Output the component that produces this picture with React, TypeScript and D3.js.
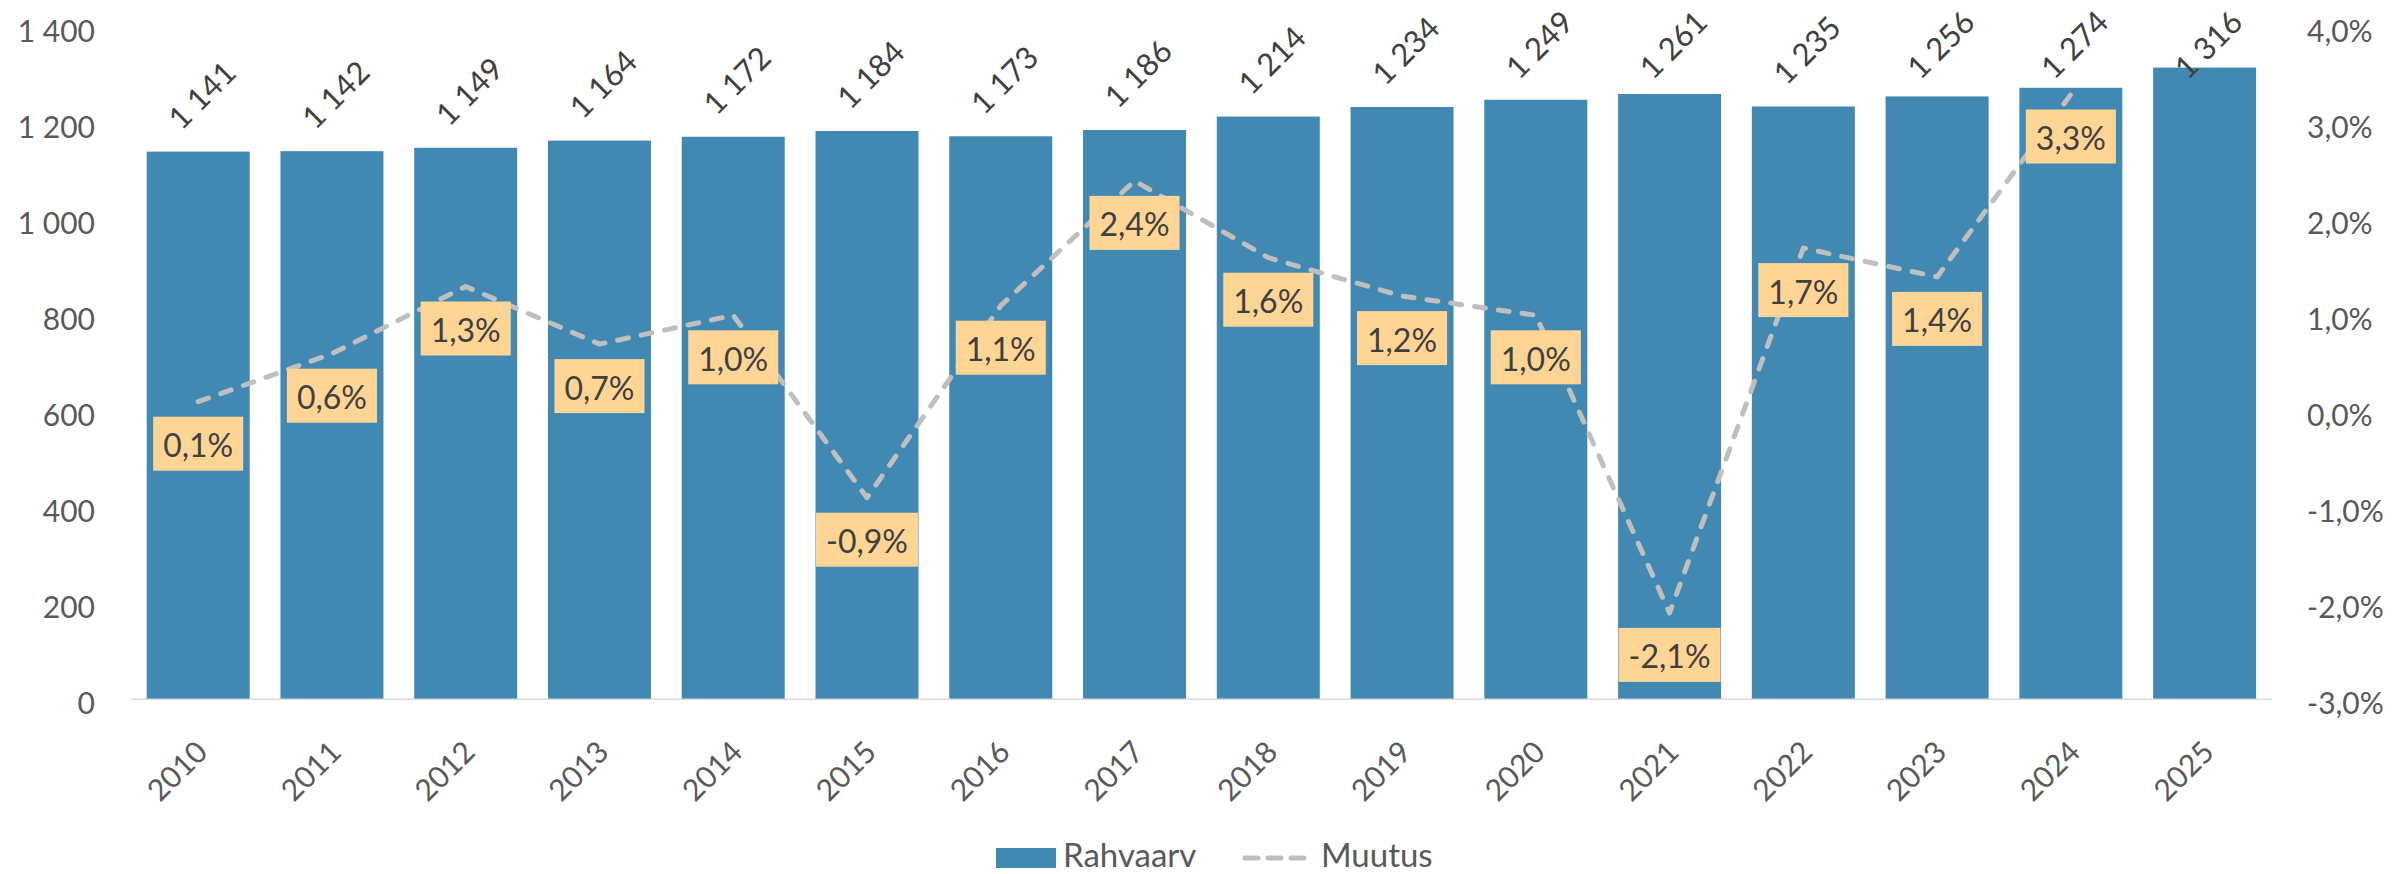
import React, { useRef, useEffect } from "react";
import * as d3 from "d3";

// andmed (loetud pildilt)
const years = ["2010", "2011", "2012", "2013", "2014", "2015", "2016", "2017", "2018", "2019", "2020", "2021", "2022", "2023", "2024", "2025"];
const population = [1141, 1142, 1149, 1164, 1172, 1184, 1173, 1186, 1214, 1234, 1249, 1261, 1235, 1256, 1274, 1316];
const change: (number | null)[] = [0.1, 0.6, 1.3, 0.7, 1.0, -0.9, 1.1, 2.4, 1.6, 1.2, 1.0, -2.1, 1.7, 1.4, 3.3, null];
const leftTicks = [0, 200, 400, 600, 800, 1000, 1200, 1400];
const rightTicks = [-3, -2, -1, 0, 1, 2, 3, 4];
const seriesNames = ["Rahvaarv", "Muutus"];

const W = 2402;
const H = 874;
const FONT = "Lato, 'Open Sans', sans-serif";
const BAR_COLOR = "#4189b3";
const LINE_COLOR = "#bfbfbf";
const BOX_COLOR = "#ffd596";
const AXIS_TEXT = "#595959";
const LABEL_TEXT = "#404040";

const fmtThousands = (n: number) =>
  n >= 1000 ? `${Math.floor(n / 1000)} ${String(n % 1000).padStart(3, "0")}` : `${n}`;
const fmtPct = (n: number) => `${n.toFixed(1).replace(".", ",")}%`;

const App = () => {
  const svgRef = useRef<SVGSVGElement | null>(null);

  useEffect(() => {
    if (!svgRef.current) return;
    const svg = d3.select(svgRef.current);
    svg.selectAll("*").remove();

    // skaalad
    const x = d3
      .scaleBand<string>()
      .domain(years)
      .range([131.3, 2271.5])
      .paddingInner(0.23)
      .paddingOuter(0.115);
    const yLeft = d3.scaleLinear().domain([0, 1400]).range([699.3, 27.3]);
    const yRight = d3.scaleLinear().domain([-3, 4]).range([699.3, 27.3]);
    const cx = (yr: string) => (x(yr) as number) + x.bandwidth() / 2;

    // vasak telg
    svg
      .append("g")
      .selectAll("text")
      .data(leftTicks)
      .enter()
      .append("text")
      .attr("x", 95)
      .attr("y", (d) => yLeft(d) + 3)
      .attr("text-anchor", "end")
      .attr("dominant-baseline", "central")
      .style("font-family", FONT)
      .style("font-size", "30px")
      .style("fill", AXIS_TEXT)
      .text((d) => fmtThousands(d));

    // parem telg
    svg
      .append("g")
      .selectAll("text")
      .data(rightTicks)
      .enter()
      .append("text")
      .attr("x", 2307)
      .attr("y", (d) => yRight(d) + 3)
      .attr("text-anchor", "start")
      .attr("dominant-baseline", "central")
      .style("font-family", FONT)
      .style("font-size", "30px")
      .style("fill", AXIS_TEXT)
      .text((d) => fmtPct(d));

    // tulbad
    svg
      .append("g")
      .selectAll("rect")
      .data(population)
      .enter()
      .append("rect")
      .attr("x", (d, i) => x(years[i]) as number)
      .attr("y", (d) => yLeft(d))
      .attr("width", x.bandwidth())
      .attr("height", (d) => yLeft(0) - yLeft(d))
      .attr("fill", BAR_COLOR);

    // x-telje joon
    svg
      .append("line")
      .attr("x1", x.range()[0])
      .attr("x2", x.range()[1])
      .attr("y1", yLeft(0))
      .attr("y2", yLeft(0))
      .attr("stroke", "#d9d9d9")
      .attr("stroke-width", 1.5);

    // aastad
    svg
      .append("g")
      .selectAll("text")
      .data(years)
      .enter()
      .append("text")
      .attr("transform", (d) => `translate(${cx(d) - 22}, 770) rotate(-45)`)
      .attr("text-anchor", "middle")
      .attr("dominant-baseline", "central")
      .style("font-family", FONT)
      .style("font-size", "30px")
      .style("fill", AXIS_TEXT)
      .text((d) => d);

    // tulpade väärtused
    svg
      .append("g")
      .selectAll("text")
      .data(population)
      .enter()
      .append("text")
      .attr("transform", (d, i) => `translate(${cx(years[i]) + 3}, ${Math.max(yLeft(d) - 57, 44)}) rotate(-45)`)
      .attr("text-anchor", "middle")
      .attr("dominant-baseline", "central")
      .style("font-family", FONT)
      .style("font-size", "31px")
      .style("fill", LABEL_TEXT)
      .text((d) => fmtThousands(d));

    // muutuse joon
    const pts = change
      .map((v, i) => ({ v, yr: years[i] }))
      .filter((p) => p.v !== null) as { v: number; yr: string }[];
    const line = d3
      .line<{ v: number; yr: string }>()
      .x((p) => cx(p.yr))
      .y((p) => yRight(p.v));
    svg
      .append("path")
      .datum(pts)
      .attr("d", line)
      .attr("fill", "none")
      .attr("stroke", LINE_COLOR)
      .attr("stroke-width", 5)
      .attr("stroke-dasharray", "11 13")
      .attr("stroke-linecap", "round")
      .attr("stroke-linejoin", "round");

    // muutuse sildid (oranž kast)
    const boxes = svg.append("g");
    pts.forEach((p) => {
      const g = boxes.append("g").attr("transform", `translate(${cx(p.yr)}, ${yRight(p.v) + 42})`);
      const rect = g.append("rect").attr("fill", BOX_COLOR);
      const t = g
        .append("text")
        .attr("text-anchor", "middle")
        .attr("dominant-baseline", "central")
        .attr("y", 1)
        .style("font-family", FONT)
        .style("font-size", "32px")
        .style("fill", LABEL_TEXT)
        .text(fmtPct(p.v));
      const w = (t.node() as SVGTextElement).getComputedTextLength() + 20;
      rect.attr("x", -w / 2).attr("y", -27).attr("width", w).attr("height", 54);
    });

    // legend
    const legend = svg.append("g");
    legend.append("rect").attr("x", 996).attr("y", 848).attr("width", 60).attr("height", 20).attr("fill", BAR_COLOR);
    legend
      .append("text")
      .attr("x", 1063)
      .attr("y", 867)
      .style("font-family", FONT)
      .style("font-size", "33px")
      .style("fill", AXIS_TEXT)
      .text(seriesNames[0]);
    legend
      .append("line")
      .attr("x1", 1245)
      .attr("x2", 1305)
      .attr("y1", 858)
      .attr("y2", 858)
      .attr("stroke", LINE_COLOR)
      .attr("stroke-width", 5)
      .attr("stroke-dasharray", "13 10")
      .attr("stroke-linecap", "round");
    legend
      .append("text")
      .attr("x", 1321)
      .attr("y", 867)
      .style("font-family", FONT)
      .style("font-size", "33px")
      .style("fill", AXIS_TEXT)
      .text(seriesNames[1]);
  }, []);

  return (
    <svg
      ref={svgRef}
      width={W}
      height={H}
      viewBox={`0 0 ${W} ${H}`}
      style={{ position: "absolute", left: 0, top: 0, display: "block", background: "#fff" }}
    />
  );
};

export default App;
